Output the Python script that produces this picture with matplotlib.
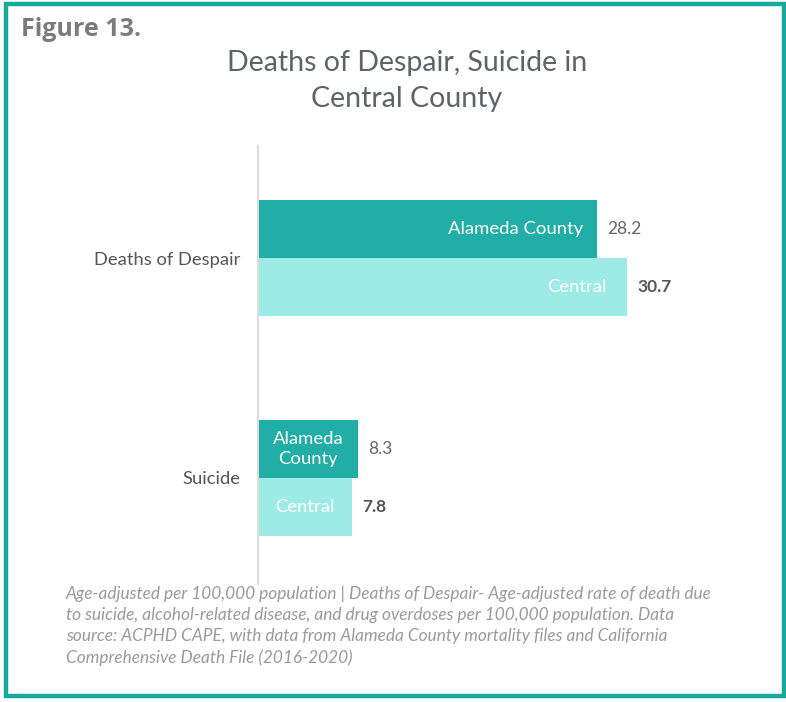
import matplotlib.pyplot as plt
import numpy as np
from matplotlib.patches import Rectangle

categories = ["Deaths of Despair", "Suicide"]
alameda = [28.2, 8.3]
central = [30.7, 7.8]
alameda_labels = ["Alameda County", "Alameda\nCounty"]

DARK = "#20aea6"
LIGHT = "#9debe7"
BORDER = "#17a99b"
GREY = "#5f6368"

fig = plt.figure(figsize=(7.86, 7.02), dpi=100)
W, H = 786, 702

# teal frame round the whole figure
fig.patches.append(Rectangle((6 / W, 6 / H), 778 / W, 692 / H, transform=fig.transFigure,
                             fill=False, edgecolor=BORDER, linewidth=3.2))

fig.text(21 / W, 1 - 30 / H, "Figure 13.", fontsize=18, fontweight="bold",
         color="#7b7b7b", family="Open Sans", va="center", ha="left")
fig.text(407 / W, 1 - 81 / H, "Deaths of Despair, Suicide in\nCentral County", fontsize=20.5,
         color=GREY, family="Lato", ha="center", va="center", linespacing=1.45)

ax = fig.add_axes([258 / W, 1 - 584 / H, 481 / W, 438 / H])
y = np.arange(len(categories))
h = 58 / 220
ax.barh(y - h / 2, alameda, height=h, color=DARK)
ax.barh(y + h / 2, central, height=h, color=LIGHT)
ax.set_xlim(0, 40)
ax.set_ylim(1 + 106 / 220, -112 / 220)

for s in ["top", "right", "bottom"]:
    ax.spines[s].set_visible(False)
ax.spines["left"].set_color("#dcdcdc")
ax.spines["left"].set_linewidth(1.5)
ax.set_xticks([])
ax.set_yticks(y)
ax.set_yticklabels(categories, fontsize=13.2, color="#555555", family="Lato")
ax.tick_params(axis="y", length=0, pad=13)

for i in range(len(categories)):
    ax.text(alameda[i] + 0.85, y[i] - h / 2, f"{alameda[i]:.1f}", va="center", ha="left",
            fontsize=12.5, color="#666666", family="Lato")
    ax.text(central[i] + 0.85, y[i] + h / 2, f"{central[i]:.1f}", va="center", ha="left",
            fontsize=12.5, color="#555555", family="Lato", fontweight="bold")
    if i == 0:
        ax.text(alameda[i] - 1.2, y[i] - h / 2, alameda_labels[i], va="center", ha="right",
                fontsize=13.3, color="white", family="Lato")
        ax.text(central[i] - 1.75, y[i] + h / 2, "Central", va="center", ha="right",
                fontsize=13.3, color="white", family="Lato")
    else:
        ax.text(alameda[i] / 2, y[i] - h / 2, alameda_labels[i], va="center", ha="center",
                fontsize=13.3, color="white", family="Lato", linespacing=1.35)
        ax.text(central[i] / 2, y[i] + h / 2, "Central", va="center", ha="center",
                fontsize=13.3, color="white", family="Lato")

note = ("Age-adjusted per 100,000 population | Deaths of Despair- Age-adjusted rate of death due\n"
        "to suicide, alcohol-related disease, and drug overdoses per 100,000 population. Data\n"
        "source: ACPHD CAPE, with data from Alameda County mortality files and California\n"
        "Comprehensive Death File (2016-2020)")
fig.text(66 / W, 1 - 586 / H, note, fontsize=12.4, style="italic", color="#9a9a9a",
         family="Lato", ha="left", va="top", linespacing=1.38)

fig.savefig("out.png", dpi=100)
